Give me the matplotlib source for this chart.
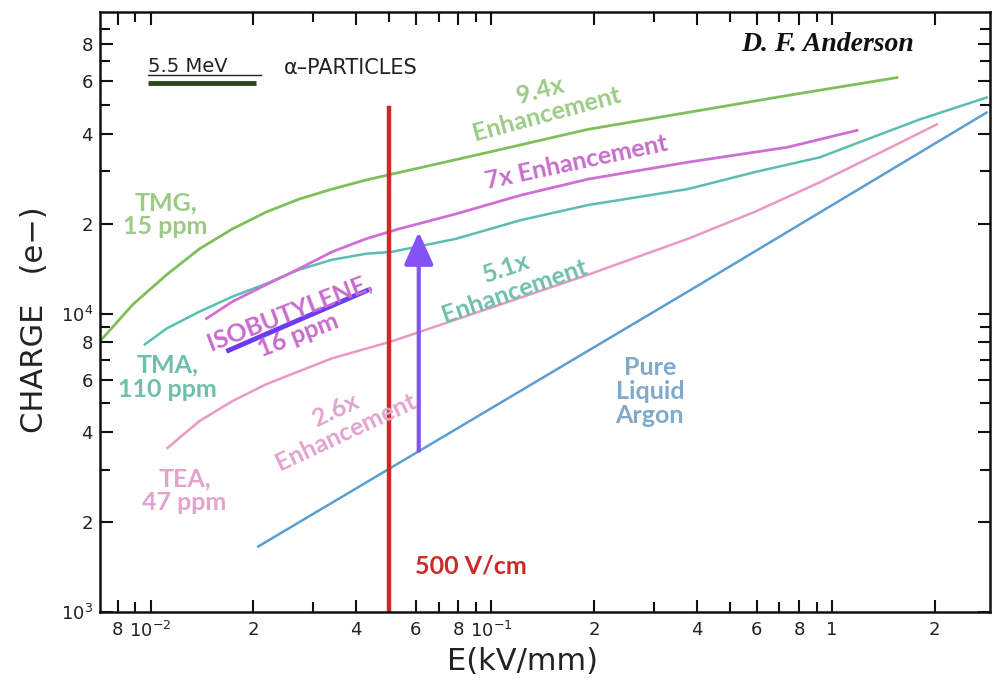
import matplotlib
matplotlib.use("Agg")
import matplotlib.pyplot as plt
from matplotlib.ticker import FixedLocator

tmg_x = [0.0071, 0.00886, 0.01114, 0.01391, 0.01737, 0.02184, 0.02728, 0.03406,
         0.0428, 0.051, 0.098, 0.192, 0.377, 0.738, 1.55]
tmg_y = [8070, 10720, 13490, 16470, 19200, 21880, 24170, 26100,
         27980, 29290, 34670, 41370, 47140, 53700, 61660]

tma_x = [0.00961, 0.01114, 0.01391, 0.01737, 0.02184, 0.02728, 0.03406, 0.0428, 0.051,
         0.0785, 0.1224, 0.1921, 0.3767, 0.5916, 0.922, 1.159, 1.808, 2.84]
tma_y = [7880, 8910, 10150, 11390, 12590, 14020, 15140, 15850, 16090,
         17780, 20570, 23080, 26100, 29740, 33370, 36870, 44670, 52880]

iso_x = [0.01458, 0.01737, 0.02184, 0.02728, 0.03406, 0.0428, 0.0535, 0.0785,
         0.1224, 0.1921, 0.3767, 0.738, 1.183]
iso_y = [9620, 10960, 12500, 14130, 16090, 17780, 19200, 21540,
         24930, 28180, 32110, 36030, 41060]

tea_x = [0.01121, 0.01391, 0.01737, 0.02184, 0.02728, 0.03406, 0.051, 0.098,
         0.1921, 0.3767, 0.5916, 0.922, 1.448, 2.028]
tea_y = [3550, 4365, 5090, 5800, 6410, 7080, 8070, 10390,
         13490, 17780, 21880, 27540, 35480, 42990]

lar_x = [0.0207, 0.377, 2.84]
lar_y = [1660, 11840, 47100]

field_500 = 0.05          # 500 V/cm
field_top = 48600
arrow_x = 0.0612
arrow_from = 3470
arrow_to = 18760

xticks = [0.008, 0.01, 0.02, 0.04, 0.06, 0.08, 0.1, 0.2, 0.4, 0.6, 0.8, 1, 2]
xlabels = ["8", r"$10^{-2}$", "2", "4", "6", "8", r"$10^{-1}$", "2", "4", "6", "8", "1", "2"]
yticks = [1000, 2000, 4000, 6000, 8000, 10000, 20000, 40000, 60000, 80000]
ylabels = [r"$10^{3}$", "2", "4", "6", "8", r"$10^{4}$", "2", "4", "6", "8"]
x_minor = [0.009, 0.03, 0.05, 0.07, 0.09, 0.3, 0.5, 0.7, 0.9]
y_minor = [3000, 5000, 7000, 9000, 30000, 50000, 70000, 90000]

GREEN = "#7fbf5a"
TEAL = "#5cbdb3"
MAGENTA = "#cf6fd6"
PINK = "#e899c4"
BLUE = "#5a9fcf"
RED = "#cc2a26"
VIOLET = "#8552f6"

fig = plt.figure(figsize=(9.93, 6.84), dpi=100)
ax = fig.add_axes([0.1007, 0.105, 0.896, 0.877])
ax.set_xscale("log")
ax.set_yscale("log")
ax.set_xlim(0.0071, 2.9)
ax.set_ylim(1000, 102000)

ax.plot(tmg_x, tmg_y, color=GREEN, lw=2.0)
ax.plot(tma_x, tma_y, color=TEAL, lw=1.8)
ax.plot(iso_x, iso_y, color=MAGENTA, lw=2.0)
ax.plot(tea_x, tea_y, color=PINK, lw=1.8)
ax.plot(lar_x, lar_y, color=BLUE, lw=1.8)

ax.plot([field_500, field_500], [1000, field_top], color=RED, lw=3.2)
ax.annotate("", xy=(arrow_x, arrow_to), xytext=(arrow_x, arrow_from),
            arrowprops=dict(arrowstyle="-|>,head_length=1.0,head_width=0.45",
                            color=VIOLET, lw=3, mutation_scale=20,
                            shrinkA=0, shrinkB=0))

# ticks, inward on all four sides
ax.set_xticks(xticks)
ax.set_xticklabels(xlabels)
ax.set_yticks(yticks)
ax.set_yticklabels(ylabels)
ax.xaxis.set_minor_locator(FixedLocator(x_minor))
ax.yaxis.set_minor_locator(FixedLocator(y_minor))
ax.tick_params(which="both", direction="in", top=True, right=True, width=1.5, color="#111111")
ax.tick_params(which="major", length=9, labelsize=13, labelcolor="#222222")
ax.tick_params(which="minor", length=7)
ax.tick_params(axis="x", which="major", pad=6)
ax.tick_params(axis="y", which="major", pad=5)
for s in ax.spines.values():
    s.set_linewidth(1.8)
    s.set_color("#111111")

fig.text(35 / 993, 1 - 320 / 684, "CHARGE   (e\u2212)", rotation=90, ha="center", va="center",
         fontsize=22, color="#222222")
fig.text(522 / 993, 1 - 662 / 684, "E(kV/mm)", ha="center", va="center",
         fontsize=22, color="#222222")

# legend-ish header
ax.text(0.0098, 67000, "5.5 MeV", fontsize=14, color="#222222", ha="left", va="center")
ax.plot([0.0098, 0.02111], [63100, 63100], color="#222222", lw=1.0)
ax.plot([0.0098, 0.02041], [59300, 59300], color="#2b4a1c", lw=3.5, solid_capstyle="butt")
ax.text(0.02466, 66530, "\u03b1\u2013PARTICLES", fontsize=15, color="#222222", ha="left", va="center")
ax.text(0.967, 79430, "D. F. Anderson", fontsize=20, fontfamily="Liberation Serif",
        fontweight="bold", fontstyle="italic", color="#111111", ha="center", va="center")

lab = dict(fontfamily="Lato", fontweight="bold", fontsize=18, ha="center", va="center",
           rotation_mode="anchor", linespacing=1.05, zorder=5)
ax.text(0.1419, 50900, "9.4x\nEnhancement", color="#9ccb86", rotation=15, **lab)
ax.text(0.1772, 32120, "7x Enhancement", color="#c86ccc", rotation=12, **lab)
ax.text(0.1136, 12980, "5.1x\nEnhancement", color="#6fbfad", rotation=19, **lab)
ax.plot([0.01667, 0.0437], [7470, 12020], color="#6c3cf0", lw=3.5, solid_capstyle="butt", zorder=3)
ax.text(0.02636, 9260, "ISOBUTYLENE,\n16 ppm", color="#c86ccc", rotation=21, **lab)
ax.text(0.03618, 4365, "2.6x\nEnhancement", color="#e3a3cf", rotation=25, **lab)
ax.text(0.01106, 21380, "TMG,\n15 ppm", color="#9ccb86", **lab)
ax.text(0.01121, 6118, "TMA,\n110 ppm", color="#6fbfad", **lab)
ax.text(0.01257, 2551, "TEA,\n47 ppm", color="#e3a3cf", **lab)
ax.text(0.2917, 5495, "Pure\nLiquid\nArgon", color="#80a9cc", **lab)
ax.text(0.0868, 1423, "500 V/cm", color=RED, **lab)

fig.savefig("out.png", dpi=100)
